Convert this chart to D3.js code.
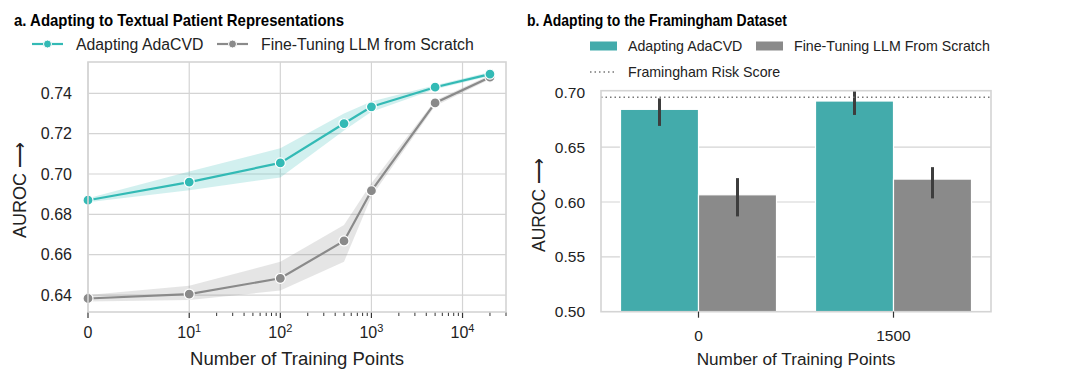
<!DOCTYPE html>
<html>
<head>
<meta charset="utf-8">
<script src="https://cdn.jsdelivr.net/npm/d3@7"></script>
<style>
  body { margin: 0; background: #fff; }
  text { font-family: "Liberation Sans", Arial, sans-serif; fill: #222; }
  .title { font-family: "Liberation Sans", Arial, sans-serif; font-weight: bold; font-size: 17px; fill: #000; }
</style>
</head>
<body>
<div id="chart"></div>
<script>
// ---- panel a data ----
const trainPoints = [0, 10, 100, 500, 1000, 5000, 20000]
const adaMean = [0.687, 0.696, 0.7055, 0.725, 0.7333, 0.743, 0.7495]
const adaLow  = [0.6860, 0.6920, 0.6983, 0.7215, 0.7309, 0.7420, 0.7485]
const adaHigh = [0.6880, 0.7012, 0.7127, 0.7300, 0.7359, 0.7440, 0.7505]
const ftMean = [0.6383, 0.6405, 0.6483, 0.6668, 0.6917, 0.7352, 0.748]
const ftLow  = [0.6368, 0.6375, 0.6422, 0.6565, 0.6888, 0.7337, 0.7470]
const ftHigh = [0.6400, 0.6446, 0.6565, 0.6747, 0.6954, 0.7364, 0.7490]
const yTicksA = [0.64, 0.66, 0.68, 0.70, 0.72, 0.74]
const xMajorA = [0, 10, 100, 1000, 10000]

// ---- panel b data ----
const groups = ["0", "1500"]
const methods = ["Adapting AdaCVD", "Fine-Tuning LLM From Scratch"]
const barMean = [[0.6845, 0.6066], [0.6921, 0.6209]]
const barLow  = [[0.6694, 0.5869], [0.6794, 0.6033]]
const barHigh = [[0.6945, 0.6218], [0.7010, 0.6318]]
const framingham = 0.6955
const yTicksB = [0.50, 0.55, 0.60, 0.65, 0.70]

const teal = '#33bab5'
const grey = '#8a8a8a'
const tealBar = '#43abab'
const gridColor = '#d4d4d4'

const svg = d3.select("#chart").append("svg")
    .attr("width", 1080).attr("height", 385)

// ================= panel a =================
let a = {left: 88, right: 506, top: 62, bottom: 312}

// matplotlib-like symlog, linthresh 10
function symT(v) { return v <= 10 ? v / 10 * (1 / 0.9) : 1 / 0.9 + Math.log10(v / 10) }
const xT = d3.scaleLinear().domain([0, symT(30000)]).range([a.left, a.right])
const xA = v => xT(symT(v))
const yA = d3.scaleLinear().domain([0.6316, 0.7555]).range([a.bottom, a.top])

const ga = svg.append("g")

// grid
ga.selectAll(".hgrid").data(yTicksA).join("line")
    .attr("x1", a.left).attr("x2", a.right)
    .attr("y1", d => yA(d)).attr("y2", d => yA(d))
    .attr("stroke", gridColor).attr("stroke-width", 1.2)
ga.selectAll(".vgrid").data(xMajorA).join("line")
    .attr("x1", d => xA(d)).attr("x2", d => xA(d))
    .attr("y1", a.top).attr("y2", a.bottom)
    .attr("stroke", gridColor).attr("stroke-width", 1.2)

// minor ticks
let minors = []
for (let k = 10; k <= 10000; k *= 10) for (let m = 2; m <= 9; m++) if (k * m <= 30000) minors.push(k * m)
ga.selectAll(".minor").data(minors).join("line")
    .attr("x1", d => xA(d)).attr("x2", d => xA(d))
    .attr("y1", a.bottom).attr("y2", a.bottom + 4)
    .attr("stroke", "#333").attr("stroke-width", 1)
ga.selectAll(".major").data(xMajorA).join("line")
    .attr("x1", d => xA(d)).attr("x2", d => xA(d))
    .attr("y1", a.bottom).attr("y2", a.bottom + 6)
    .attr("stroke", "#333").attr("stroke-width", 1.2)

// bands + lines
function drawSeries(mean, low, high, col) {
    const area = d3.area().x((d, i) => xA(trainPoints[i])).y0((d, i) => yA(low[i])).y1((d, i) => yA(high[i]))
    ga.append("path").datum(mean).attr("d", area).attr("fill", col).attr("opacity", 0.22)
    const line = d3.line().x((d, i) => xA(trainPoints[i])).y(d => yA(d))
    ga.append("path").datum(mean).attr("d", line).attr("fill", "none").attr("stroke", col).attr("stroke-width", 2.2)
    ga.selectAll(null).data(mean).join("circle")
        .attr("cx", (d, i) => xA(trainPoints[i])).attr("cy", d => yA(d)).attr("r", 5)
        .attr("fill", col).attr("stroke", "#fff").attr("stroke-width", 1.2)
}
drawSeries(ftMean, ftLow, ftHigh, grey)
drawSeries(adaMean, adaLow, adaHigh, teal)

// frame
ga.append("rect").attr("x", a.left).attr("y", a.top).attr("width", a.right - a.left).attr("height", a.bottom - a.top)
    .attr("fill", "none").attr("stroke", gridColor).attr("stroke-width", 1.6)

// y tick labels
ga.selectAll(".ylab").data(yTicksA).join("text")
    .attr("x", 72).attr("y", d => yA(d) + 5.8)
    .attr("text-anchor", "end").attr("font-size", 16)
    .text(d => d3.format(".2f")(d))

// x tick labels
ga.selectAll(".xlab").data(xMajorA).join("text")
    .attr("x", d => xA(d)).attr("y", 338)
    .attr("text-anchor", "middle").attr("font-size", 16)
    .each(function(d) {
        const t = d3.select(this)
        if (d === 0) { t.text("0"); return }
        t.append("tspan").text("10")
        t.append("tspan").attr("dy", -6).attr("font-size", 11).text(String(Math.round(Math.log10(d))))
    })

ga.append("text").attr("x", 297).attr("y", 365).attr("text-anchor", "middle").attr("font-size", 18.5)
    .text("Number of Training Points")
ga.append("text").attr("transform", "translate(26,190) rotate(-90)").attr("text-anchor", "middle").attr("font-size", 18)
    .text("AUROC \u27F6")

ga.append("text").attr("class", "title").attr("x", 14).attr("y", 25.5)
    .attr("textLength", 330).attr("lengthAdjust", "spacingAndGlyphs")
    .text("a. Adapting to Textual Patient Representations")

// legend a
const legA = [{name: "Adapting AdaCVD", col: teal, x: 32}, {name: "Fine-Tuning LLM from Scratch", col: grey, x: 217}]
legA.forEach(l => {
    ga.append("line").attr("x1", l.x).attr("x2", l.x + 31).attr("y1", 44).attr("y2", 44)
        .attr("stroke", l.col).attr("stroke-width", 2.2)
    ga.append("circle").attr("cx", l.x + 15.5).attr("cy", 44).attr("r", 4).attr("fill", l.col)
        .attr("stroke", "#fff").attr("stroke-width", 1)
    ga.append("text").attr("x", l.x + 44).attr("y", 50).attr("font-size", 15.8).text(l.name)
})

// ================= panel b =================
let b = {left: 601, right: 991, top: 90.7, bottom: 311.7}
const x0 = d3.scaleBand().domain(groups).range([b.left, b.right]).paddingInner(0.2).paddingOuter(0.1)
const x1 = d3.scaleBand().domain(methods).range([0, x0.bandwidth()])
const yB = d3.scaleLinear().domain([0.5, 0.7015]).range([b.bottom, b.top])
const gb = svg.append("g")

gb.selectAll(".hgrid").data(yTicksB.filter(d => d > 0.5 && d < 0.7)).join("line")
    .attr("x1", b.left).attr("x2", b.right)
    .attr("y1", d => yB(d)).attr("y2", d => yB(d))
    .attr("stroke", gridColor).attr("stroke-width", 1.2)

const barCols = [tealBar, grey]
groups.forEach((g, gi) => {
    methods.forEach((m, mi) => {
        gb.append("rect")
            .attr("x", x0(g) + x1(m)).attr("width", x1.bandwidth())
            .attr("y", yB(barMean[gi][mi])).attr("height", yB(0.5) - yB(barMean[gi][mi]))
            .attr("fill", barCols[mi]).attr("stroke", "#fff").attr("stroke-width", 1.2)
    })
})
groups.forEach((g, gi) => {
    methods.forEach((m, mi) => {
        const cx = x0(g) + x1(m) + x1.bandwidth() / 2
        gb.append("line").attr("x1", cx).attr("x2", cx)
            .attr("y1", yB(barLow[gi][mi])).attr("y2", yB(Math.min(barHigh[gi][mi], 0.7015)))
            .attr("stroke", "#3d3d3d").attr("stroke-width", 3)
    })
})

gb.append("line").attr("x1", b.left).attr("x2", b.right)
    .attr("y1", yB(framingham)).attr("y2", yB(framingham))
    .attr("stroke", "#777").attr("stroke-width", 1.5).attr("stroke-dasharray", "1.5,3")

gb.append("rect").attr("x", b.left).attr("y", b.top).attr("width", b.right - b.left).attr("height", b.bottom - b.top)
    .attr("fill", "none").attr("stroke", gridColor).attr("stroke-width", 1.6)

gb.selectAll(".xt").data(groups).join("line")
    .attr("x1", d => x0(d) + x0.bandwidth() / 2).attr("x2", d => x0(d) + x0.bandwidth() / 2)
    .attr("y1", b.bottom).attr("y2", b.bottom + 6)
    .attr("stroke", "#333").attr("stroke-width", 1.2)
gb.selectAll(".xlab").data(groups).join("text")
    .attr("x", d => x0(d) + x0.bandwidth() / 2).attr("y", 340.5)
    .attr("text-anchor", "middle").attr("font-size", 15.5).text(d => d)
gb.selectAll(".ylab").data(yTicksB).join("text")
    .attr("x", 585).attr("y", d => yB(d) + 5.5)
    .attr("text-anchor", "end").attr("font-size", 15.5)
    .text(d => d3.format(".2f")(d))

gb.append("text").attr("x", 796).attr("y", 365).attr("text-anchor", "middle").attr("font-size", 17.2)
    .text("Number of Training Points")
gb.append("text").attr("transform", "translate(545,205) rotate(-90)").attr("text-anchor", "middle").attr("font-size", 17.5)
    .text("AUROC \u27F6")
gb.append("text").attr("class", "title").attr("x", 527).attr("y", 25.5)
    .attr("textLength", 260).attr("lengthAdjust", "spacingAndGlyphs")
    .text("b. Adapting to the Framingham Dataset")

// legend b
const legB = [{name: methods[0], col: tealBar, x: 590, y: 45.5}, {name: methods[1], col: grey, x: 756, y: 45.5}]
legB.forEach(l => {
    gb.append("rect").attr("x", l.x).attr("y", l.y - 4).attr("width", 27).attr("height", 9).attr("fill", l.col)
    gb.append("text").attr("x", l.x + 38).attr("y", l.y + 5.5).attr("font-size", 14.2).text(l.name)
})
gb.append("line").attr("x1", 590).attr("x2", 617).attr("y1", 72).attr("y2", 72)
    .attr("stroke", "#777").attr("stroke-width", 1.5).attr("stroke-dasharray", "1.5,3")
gb.append("text").attr("x", 628).attr("y", 77).attr("font-size", 14.2).text("Framingham Risk Score")
</script>
</body>
</html>
